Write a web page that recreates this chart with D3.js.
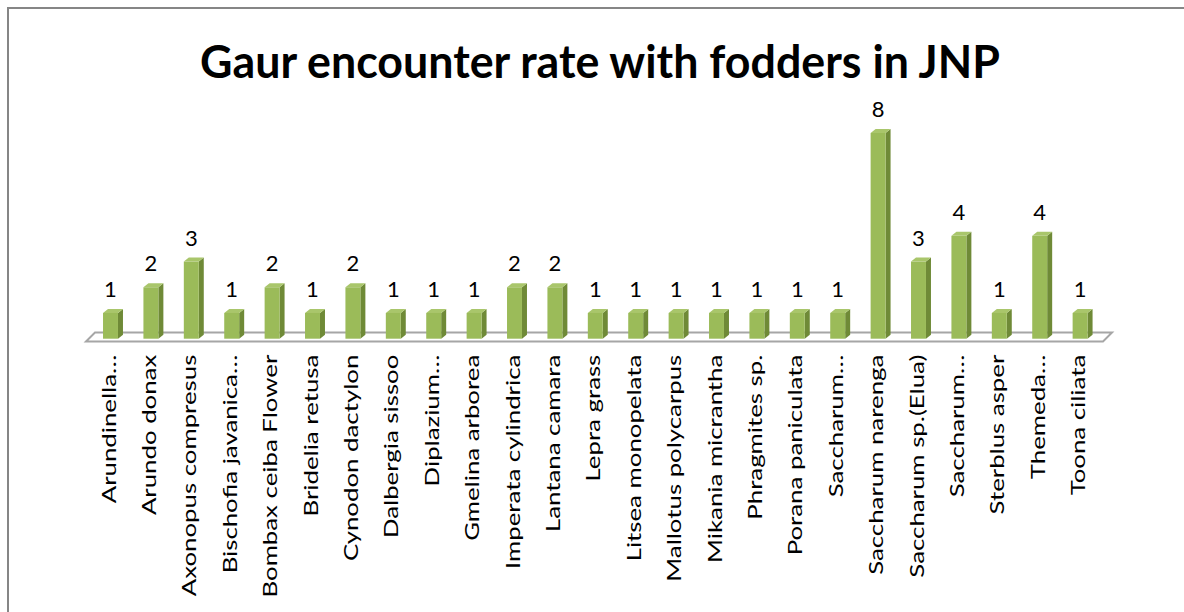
<!DOCTYPE html>
<html>
<head>
<meta charset="utf-8">
<script src="https://cdn.jsdelivr.net/npm/d3@7"></script>
<style>
  html, body { margin: 0; padding: 0; background: #fff; }
  svg { display: block; }
  text { font-family: Lato, "Open Sans", sans-serif; fill: #000; }
</style>
</head>
<body>
<svg id="chart" width="1184" height="612"></svg>
<script>
const chartTitle = "Gaur encounter rate with fodders in JNP";
const categories = [
  "Arundinella…", "Arundo donax", "Axonopus compresus", "Bischofia javanica…",
  "Bombax ceiba Flower", "Bridelia retusa", "Cynodon dactylon", "Dalbergia sissoo",
  "Diplazium…", "Gmelina arborea", "Imperata cylindrica", "Lantana camara",
  "Lepra grass", "Litsea monopelata", "Mallotus polycarpus", "Mikania micrantha",
  "Phragmites sp.", "Porana paniculata", "Saccharum…", "Saccharum narenga",
  "Saccharum sp.(Elua)", "Saccharum…", "Sterblus asper", "Themeda…", "Toona ciliata"
];
const values = [1, 2, 3, 1, 2, 1, 2, 1, 1, 1, 2, 2, 1, 1, 1, 1, 1, 1, 1, 8, 3, 4, 1, 4, 1];
const valueDomain = [0, 8];

const svg = d3.select("#chart");

// outer chart border (top and left visible)
svg.append("rect")
  .attr("x", 8).attr("y", 8).attr("width", 1300).attr("height", 800)
  .attr("fill", "#fff").attr("stroke", "#868686").attr("stroke-width", 2);

// title
svg.append("text")
  .attr("x", 600).attr("y", 78)
  .attr("text-anchor", "middle")
  .attr("font-weight", "bold")
  .attr("font-size", 45)
  .attr("textLength", 800)
  .attr("lengthAdjust", "spacingAndGlyphs")
  .text(chartTitle);

const idx = categories.map((d, i) => i);
const x = d3.scaleBand().domain(idx).range([90.3, 1100.3]).paddingInner(0.63).paddingOuter(0.315);
const y = d3.scaleLinear().domain(valueDomain).range([338.7, 133]);

const depthX = 5, depthY = -4;
const floorDX = 9, floorDY = -9;

// floor
const y0 = y(0);
const fl = 86, fr = 1103, fy = 341.5;
svg.append("polygon")
  .attr("points", [[fl, fy], [fl + floorDX, fy + floorDY], [fr + floorDX, fy + floorDY], [fr, fy]].map(p => p.join(",")).join(" "))
  .attr("fill", "#fff").attr("stroke", "#a6a6a6").attr("stroke-width", 2);

const bw = x.bandwidth();
const bars = svg.append("g").selectAll("g").data(values).join("g");

bars.append("polygon") // side
  .attr("points", (d, i) => {
    const x1 = x(i) + bw, yt = y(d);
    return [[x1, yt], [x1 + depthX, yt + depthY], [x1 + depthX, y0 + depthY], [x1, y0]].map(p => p.join(",")).join(" ");
  })
  .attr("fill", "#6f8a37");

bars.append("polygon") // top
  .attr("points", (d, i) => {
    const x0 = x(i), yt = y(d);
    return [[x0, yt], [x0 + depthX, yt + depthY], [x0 + bw + depthX, yt + depthY], [x0 + bw, yt]].map(p => p.join(",")).join(" ");
  })
  .attr("fill", "#a9c66b");

bars.append("rect") // front
  .attr("x", (d, i) => x(i))
  .attr("y", d => y(d))
  .attr("width", bw)
  .attr("height", d => y0 - y(d))
  .attr("fill", "#9bbb59");

// value labels
svg.append("g").selectAll("text").data(values).join("text")
  .attr("x", (d, i) => x(i) + bw / 2)
  .attr("y", d => y(d) - 16)
  .attr("text-anchor", "middle")
  .attr("font-size", 22)
  .text(d => d);

// category axis
const axis = d3.axisBottom(x).tickSize(0).tickFormat(i => categories[i]);
const gx = svg.append("g").attr("transform", `translate(0,${y0})`).call(axis);
gx.select(".domain").remove();
gx.selectAll(".tick text")
  .attr("font-family", "Lato, 'Open Sans', sans-serif")
  .attr("font-size", 20)
  .attr("fill", "#000")
  .attr("text-anchor", "end")
  .attr("dy", null)
  .attr("y", 0)
  .attr("x", 0)
  .attr("transform", "translate(-2,16) rotate(-90) scale(1.29,1) translate(0,7)");
</script>
</body>
</html>
